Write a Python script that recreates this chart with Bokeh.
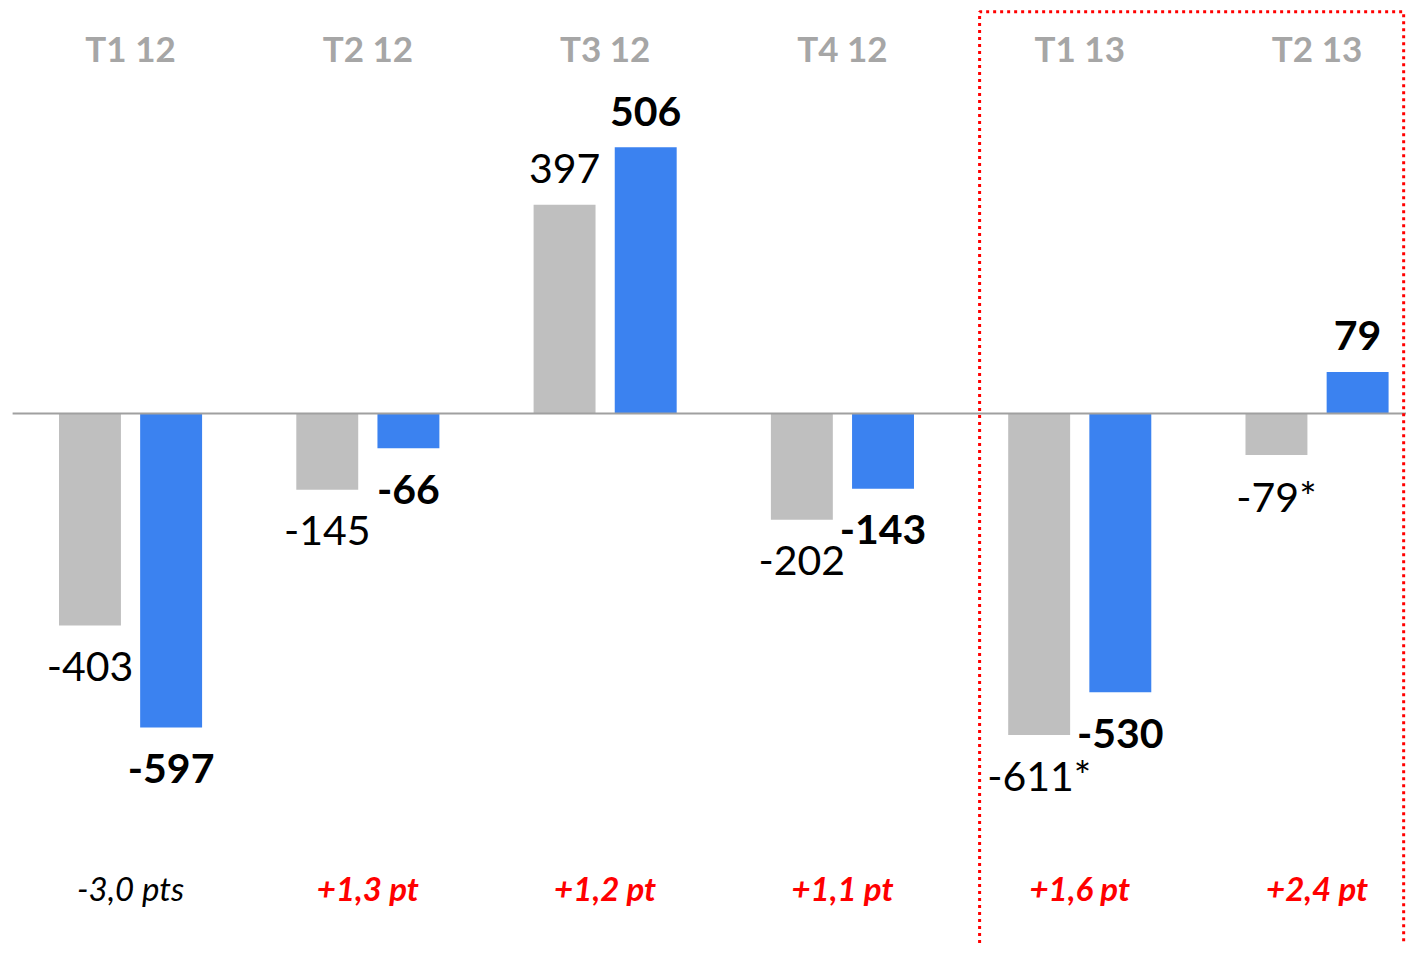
from bokeh.plotting import figure
from bokeh.models import Range1d, ColumnDataSource
from bokeh.core.properties import value
from bokeh.embed import file_html
from bokeh.resources import INLINE

categories = ["T1 12", "T2 12", "T3 12", "T4 12", "T1 13", "T2 13"]
gray_values = [-403, -145, 397, -202, -611, -79]
blue_values = [-597, -66, 506, -143, -530, 79]
gray_labels = ["-403", "-145", "397", "-202", "-611*", "-79*"]
blue_labels = ["-597", "-66", "506", "-143", "-530", "79"]
delta_labels = ["-3,0 pts", "+1,3 pt", "+1,2 pt", "+1,1 pt", "+1,6 pt", "+2,4 pt"]

FONT = "Lato"
GRAY = "#bfbfbf"
BLUE = "#3b82f0"
OFF = 0.171
BW = 0.261

xs = list(range(len(categories)))

p = figure(width=1406, height=944, output_backend="svg", toolbar_location=None,
           x_range=Range1d(-0.548, 5.377), y_range=Range1d(-1009.5, 785.2),
           min_border=0)
p.xaxis.visible = False
p.yaxis.visible = False
p.xgrid.visible = False
p.ygrid.visible = False
p.outline_line_color = None

gx = [x - OFF for x in xs]
bx = [x + OFF for x in xs]

p.vbar(x=gx, top=gray_values, bottom=0, width=BW, fill_color=GRAY, line_color=None)
p.vbar(x=bx, top=blue_values, bottom=0, width=BW, fill_color=BLUE, line_color=None)

# baseline
p.segment(x0=[-0.497], y0=[0], x1=[5.6], y1=[0], line_color="#a0a0a0", line_width=2)

# dotted highlight box
p.line(x=[3.578, 3.578, 5.365, 5.365], y=[-1100, 764, 764, -1100],
       line_color="#ff0000", line_width=3, line_dash="3 4")

def add_labels(xpos, vals, labels, bold):
    pos = [i for i, v in enumerate(vals) if v >= 0]
    neg = [i for i, v in enumerate(vals) if v < 0]
    for idx, off in ((pos, -36), (neg, 41)):
        src = ColumnDataSource(dict(x=[xpos[i] for i in idx], y=[vals[i] for i in idx],
                                    t=[labels[i] for i in idx]))
        p.text(x="x", y="y", text="t", source=src, y_offset=off,
               text_align="center", text_baseline="middle",
               text_font=value(FONT), text_font_size="41px",
               text_font_style="bold" if bold else "normal", text_color="#000000")

add_labels(gx, gray_values, gray_labels, False)
add_labels(bx, blue_values, blue_labels, True)

# header labels
p.text(x=xs, y=[694] * len(xs), text=categories, text_align="center", text_baseline="middle",
       text_font=value(FONT), text_font_size="35px", text_font_style="bold",
       text_color="#a6a6a6")

# bottom delta labels
hi = [i for i, t in enumerate(delta_labels) if t.startswith("+")]
lo = [i for i, t in enumerate(delta_labels) if not t.startswith("+")]
p.text(x=[xs[i] for i in lo], y=[-903] * len(lo), text=[delta_labels[i] for i in lo],
       text_align="center", text_baseline="middle", text_font=value(FONT),
       text_font_size="33px", text_font_style="italic", text_color="#000000")
p.text(x=[xs[i] for i in hi], y=[-903] * len(hi), text=[delta_labels[i] for i in hi],
       text_align="center", text_baseline="middle", text_font=value(FONT),
       text_font_size="33px", text_font_style="bold italic", text_color="#ff0000")

open("out.html", "w").write(file_html(p, INLINE))
